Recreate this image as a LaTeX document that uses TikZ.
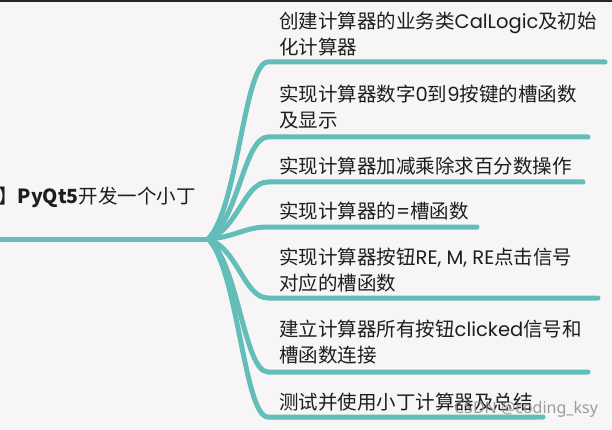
\documentclass[tikz,border=0pt]{standalone}
\usepackage{fontspec}
\setmainfont{Noto Sans CJK SC}
\newfontfamily\wmfont{Noto Sans}
\newfontfamily\latf{Poppins}
\newcommand{\lt}[1]{{\latf #1}}
\definecolor{bgc}{HTML}{F7F5F6}
\definecolor{teal}{HTML}{63BDB9}
\definecolor{txt}{HTML}{1E1E1E}
\tikzset{
  lbl/.style={anchor=west, inner sep=0pt, align=left, text=txt, font=\fontsize{19.5}{26}\selectfont},
  branch/.style={draw=teal, line width=5pt, line cap=round},
}
\begin{document}
\begin{tikzpicture}[x=1pt,y=-1pt]
\fill[bgc] (0,0) rectangle (612,430);
\useasboundingbox (0,0) rectangle (612,430);
\draw[line width=2pt, black!85] (0,1) -- (612,1);

% root
\node[lbl, anchor=west] (root) at (-2,197) {】\textbf{PyQt5}开发一个小丁};
\coordinate (r0) at (-5,239);
\coordinate (j) at (208,239);
\draw[branch] (r0) -- (j);

% branch labels
\node[lbl] (t1) at (279,34.5) {创建计算器的业务类\lt{CalLogic}及初始\\化计算器};
\node[lbl] (t2) at (279,107) {实现计算器数字\lt{0}到\lt{9}按键的槽函数\\及显示};
\node[lbl] (t3) at (279,166) {实现计算器加减乘除求百分数操作};
\node[lbl] (t4) at (279,211) {实现计算器的\lt{=}槽函数};
\node[lbl] (t5) at (279,270) {实现计算器按钮\lt{RE, M, RE}点击信号\\对应的槽函数};
\node[lbl] (t6) at (279,342.5) {建立计算器所有按钮\lt{clicked}信号和\\槽函数连接};
\node[lbl] (t7) at (279,402) {测试并使用小丁计算器及总结};

% underline end points
\coordinate (s1) at (268,62);  \coordinate (e1) at (605,62);
\coordinate (s2) at (268,137); \coordinate (e2) at (588,137);
\coordinate (s3) at (268,182); \coordinate (e3) at (583,182);
\coordinate (s4) at (268,227); \coordinate (e4) at (477,227);
\coordinate (s5) at (268,298); \coordinate (e5) at (598,298);
\coordinate (s6) at (268,372); \coordinate (e6) at (588,372);
\coordinate (s7) at (268,417); \coordinate (e7) at (543,417);

\draw[branch] (j) .. controls (238,209.8) and (244,62) .. (s1) -- (e1);
\draw[branch] (j) .. controls (238,222.2) and (244,137) .. (s2) -- (e2);
\draw[branch] (j) .. controls (238,229.6) and (244,182) .. (s3) -- (e3);
\draw[branch] (j) .. controls (236,237) and (244,227) .. (s4) -- (e4);
\draw[branch] (j) .. controls (238,248.7) and (244,298) .. (s5) -- (e5);
\draw[branch] (j) .. controls (238,260.9) and (244,372) .. (s6) -- (e6);
\draw[branch] (j) .. controls (238,268.4) and (244,417) .. (s7) -- (e7);

% watermark
\node[inner sep=0pt, text=black!45, opacity=0.85, font=\wmfont\fontsize{16}{18}\selectfont] (wm) at (526,409) {CSDN @coding\_ksy};
\end{tikzpicture}
\end{document}
